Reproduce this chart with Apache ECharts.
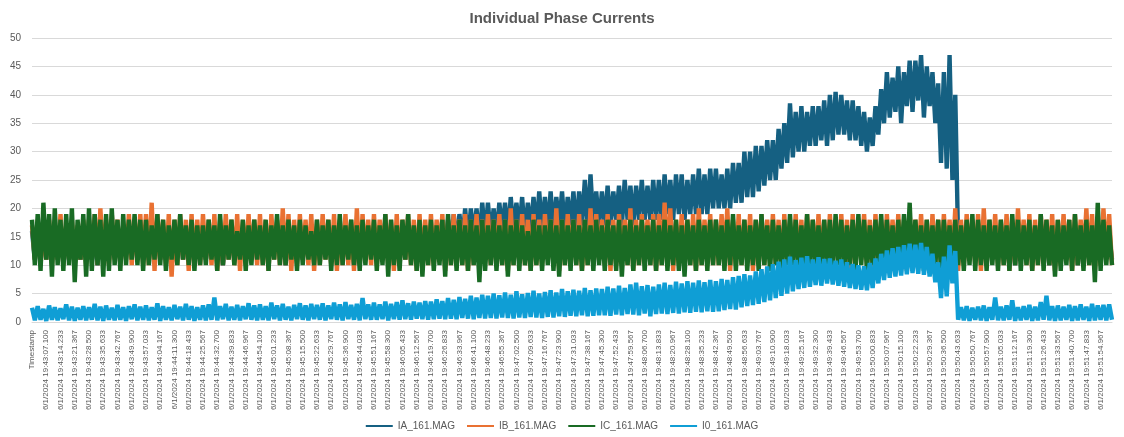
<!DOCTYPE html>
<html lang="en">
<head>
<meta charset="utf-8">
<title>Individual Phase Currents</title>
<script src="https://cdn.jsdelivr.net/npm/echarts@6/dist/echarts.min.js"></script>
<style>
    html, body { margin: 0; padding: 0; background: #fff; }
    #container { width: 1124px; height: 437px; }
</style>
</head>
<body>
<div id="container"></div>
<script>
    // tick labels shown on the category axis (one every 5 points)
    const tickDate = "6/1/2024";
    const tickTimes = [
        "19:43:07.100", "19:43:14.233", "19:43:21.367", "19:43:28.500", "19:43:35.633", "19:43:42.767", "19:43:49.900", "19:43:57.033",
        "19:44:04.167", "19:44:11.300", "19:44:18.433", "19:44:25.567", "19:44:32.700", "19:44:39.833", "19:44:46.967", "19:44:54.100",
        "19:45:01.233", "19:45:08.367", "19:45:15.500", "19:45:22.633", "19:45:29.767", "19:45:36.900", "19:45:44.033", "19:45:51.167", "19:45:58.300",
        "19:46:05.433", "19:46:12.567", "19:46:19.700", "19:46:26.833", "19:46:33.967", "19:46:41.100", "19:46:48.233", "19:46:55.367",
        "19:47:02.500", "19:47:09.633", "19:47:16.767", "19:47:23.900", "19:47:31.033", "19:47:38.167", "19:47:45.300", "19:47:52.433", "19:47:59.567",
        "19:48:06.700", "19:48:13.833", "19:48:20.967", "19:48:28.100", "19:48:35.233", "19:48:42.367", "19:48:49.500", "19:48:56.633",
        "19:49:03.767", "19:49:10.900", "19:49:18.033", "19:49:25.167", "19:49:32.300", "19:49:39.433", "19:49:46.567", "19:49:53.700",
        "19:50:00.833", "19:50:07.967", "19:50:15.100", "19:50:22.233", "19:50:29.367", "19:50:36.500", "19:50:43.633", "19:50:50.767", "19:50:57.900",
        "19:51:05.033", "19:51:12.167", "19:51:19.300", "19:51:26.433", "19:51:33.567", "19:51:40.700", "19:51:47.833", "19:51:54.967"
    ];
    const pointsPerTick = 5;

    const seriesNames = ["IA_161.MAG", "IB_161.MAG", "IC_161.MAG", "I0_161.MAG"];
    const seriesColors = ["#156082", "#E97132", "#196B24", "#0F9ED5"];

    const iaValues = [
        16,11,15,12,16,11,15,12,16,11,15,12,16,11,15,12,16,11,15,12,
        16,11,15,10,16,12,15,11,16,12,15,11,16,12,15,11,16,12,15,11,
        16,11,15,12,16,11,15,12,16,10,15,12,16,11,15,12,16,11,15,12,
        16,11,15,12,16,11,15,10,16,12,15,11,16,12,15,11,16,12,15,11,
        16,12,15,11,16,12,15,11,16,10,15,11,16,12,15,11,16,12,15,11,
        16,11,15,12,16,11,15,12,16,11,15,12,16,10,15,12,16,11,15,12,
        16,11,16,12,17,11,16,12,17,12,16,11,17,12,16,12,17,12,16,12,
        17,12,17,13,18,12,18,13,19,13,19,14,20,14,20,15,20,14,21,15,
        21,15,20,15,21,16,21,15,22,16,21,16,22,15,21,16,22,16,23,16,
        22,16,23,16,22,17,23,16,22,17,23,16,23,17,25,17,26,17,23,17,
        23,17,24,17,23,18,24,17,25,18,24,17,24,18,25,18,24,18,25,18,
        25,18,26,19,25,18,26,19,26,18,25,19,26,19,27,19,26,19,27,20,
        27,20,26,20,27,20,28,21,28,21,30,22,30,22,31,23,31,24,32,25,
        32,25,34,27,35,28,38.5,29,37,30,38,30,37,31,38,31,38,32,39,31,
        40,32,40.5,33,40,33,39,32,39,32,38,31,37,30,36,31,38,33,41,35,
        44,36,43,37,45,35,44,38,46,37,46,39,47,36,45,38,44,35,42,28,
        44,27,47,25,40,14,16,12,15,11,16,12,15,11,16,12,15,11,16,12,
        16,11,15,12,16,10,15,12,16,11,15,12,16,11,15,12,16,10,15,12,
        16,11,15,12,16,11,15,10,16,12,15,11,16,12,15,11,16,12,15,11
    ];

    const ibValues = [
        17,11,18,10,17,11,18,10,17,11,19,10,17,11,18,10,17,11,18,10,
        18,11,19,10,20,11,18,10,19,11,18,10,17,11,19,10,18,11,19,10,
        19,10,21,9,19,11,18,10,19,8,18,10,19,11,18,9,19,10,18,10,
        19,11,18,10,19,9,18,10,19,11,18,10,19,9,18,10,19,11,18,10,
        19,10,18,9,19,11,18,10,20,10,19,9,18,10,19,11,18,10,19,9,
        18,10,19,11,18,10,19,9,18,10,19,10,18,9,20,10,19,11,18,10,
        19,10,18,11,19,10,18,9,19,10,18,11,19,10,18,9,19,10,18,10,
        19,10,18,11,19,9,18,10,19,11,18,10,19,9,18,10,19,10,18,11,
        19,10,18,11,19,10,18,9,20,10,18,11,19,10,18,9,19,10,18,10,
        19,11,18,10,20,9,18,10,19,11,18,10,19,9,18,10,20,10,19,11,
        18,10,19,9,18,10,19,11,18,10,20,9,18,10,19,11,18,10,19,9,
        19,10,21,11,20,9,18,10,19,11,18,10,19,9,20,10,18,11,19,10,
        18,10,19,11,20,9,18,10,19,10,18,11,19,9,18,10,19,10,18,11,
        19,10,18,9,19,11,18,10,19,10,18,9,19,11,18,10,19,10,18,9,
        19,10,18,11,19,10,18,9,19,10,18,11,19,10,18,9,19,10,18,10,
        19,11,18,10,19,10,18,9,19,10,18,11,19,10,18,9,19,10,18,10,
        19,11,18,10,20,9,18,10,19,11,18,10,19,9,20,10,18,11,19,10,
        18,10,19,9,18,10,20,11,18,10,19,9,18,10,19,11,18,10,19,9,
        18,10,19,11,18,9,19,10,18,11,20,10,19,9,18,10,20,11,19,10
    ];

    const icValues = [
        18,10,19,9,21,11,19,8,20,10,18,9,19,10,20,7,18,11,19,8,
        20,9,19,10,18,8,19,9,20,10,18,9,19,10,18,11,19,10,18,9,
        18,10,17,11,19,10,18,9,17,11,18,10,19,11,17,10,18,9,17,10,
        17,10,18,11,17,9,19,10,17,11,18,10,16,11,18,9,17,10,18,11,
        17,10,18,9,17,11,19,10,17,10,18,11,17,9,18,10,17,11,16,10,
        18,10,17,11,18,9,17,10,19,10,17,11,18,10,17,9,18,10,17,11,
        18,9,17,10,19,8,18,10,17,9,18,11,19,10,17,9,18,8,17,10,
        18,9,17,10,18,8,19,10,17,9,18,10,17,9,18,10,17,7,18,9,
        17,10,18,9,17,10,18,8,17,10,18,9,17,10,16,9,18,10,17,9,
        17,10,18,9,17,8,18,10,17,9,18,10,17,9,18,10,17,9,18,10,
        17,9,18,10,17,9,18,8,17,10,18,9,17,10,18,9,17,10,18,9,
        17,10,18,9,17,10,18,9,17,8,18,10,17,9,18,10,17,9,18,10,
        18,10,17,9,18,10,19,9,17,10,18,9,17,10,18,9,19,10,17,9,
        18,10,17,9,18,10,19,10,18,9,17,10,19,9,18,10,17,9,18,10,
        18,9,19,10,18,9,17,10,18,9,19,10,18,9,17,10,18,10,19,9,
        18,10,17,9,18,10,19,10,21,9,18,10,17,9,18,10,17,10,18,9,
        18,10,17,9,18,10,17,9,18,10,19,9,18,10,17,9,18,10,17,9,
        18,10,17,9,19,10,18,9,17,10,18,9,17,10,19,9,18,10,17,8,
        18,9,17,10,18,9,19,10,17,9,18,10,17,7,21,9,18,10,17,10
    ];

    const i0Values = [
        2.5,0.3,2.8,0.4,2.3,0.2,2.9,0.4,2.6,0.3,2.4,0.5,3.1,0.3,2.7,0.2,2.5,0.4,2.8,0.3,
        2.6,0.4,3.2,0.3,2.7,0.2,2.9,0.4,2.5,0.3,3.0,0.4,2.6,0.2,2.8,0.5,3.1,0.3,2.7,0.4,
        2.9,0.3,2.6,0.4,3.3,0.2,2.8,0.4,2.6,0.3,3.0,0.5,2.7,0.3,3.2,0.4,2.8,0.2,2.6,0.4,
        2.9,0.3,3.1,0.4,4.3,0.3,2.8,0.5,3.2,0.3,2.7,0.4,3.0,0.3,2.8,0.5,3.3,0.4,2.9,0.3,
        3.1,0.4,2.8,0.3,3.4,0.5,2.9,0.3,3.2,0.4,2.7,0.3,3.0,0.5,3.3,0.4,2.9,0.3,3.2,0.5,
        3.0,0.4,3.3,0.3,2.9,0.5,3.4,0.4,3.1,0.3,3.5,0.5,3.0,0.4,3.2,0.3,4.2,0.5,3.1,0.4,
        3.4,0.4,3.1,0.5,3.6,0.3,3.2,0.5,3.5,0.4,3.8,0.5,3.3,0.4,3.6,0.6,3.4,0.5,3.7,0.4,
        3.6,0.5,4.0,0.6,3.7,0.5,4.2,0.6,3.9,0.5,4.4,0.7,4.1,0.6,4.6,0.5,4.3,0.7,4.8,0.6,
        4.6,0.7,5.0,0.6,4.7,0.8,5.2,0.7,4.8,0.6,5.4,0.8,4.9,0.7,5.1,0.9,5.5,0.8,5.0,0.7,
        5.3,0.9,5.6,0.8,5.2,1.0,5.8,0.9,5.4,1.1,5.7,1.0,5.5,1.2,6.0,1.0,5.6,1.1,5.9,1.2,
        5.8,1.2,6.2,1.1,5.9,1.3,6.4,1.2,6.0,1.4,6.6,1.3,6.9,1.2,6.3,1.5,6.5,1.0,6.2,1.4,
        6.6,1.5,6.9,1.4,6.5,1.6,7.1,1.5,6.8,1.7,7.2,1.6,6.9,1.8,7.3,1.7,7.0,1.9,7.4,1.8,
        7.2,1.9,7.6,2.1,7.4,2.3,7.9,2.2,8.1,2.6,8.4,2.8,8.2,3.0,8.9,3.2,9.3,3.5,9.8,3.8,
        10.2,4.2,10.6,4.6,11.0,5.0,11.5,5.4,10.9,5.8,11.3,6.0,11.6,6.2,11.0,6.5,11.4,6.4,11.1,6.8,
        11.2,6.6,10.8,6.4,11.0,6.2,10.5,6.0,10.2,5.8,10.0,5.7,9.8,5.6,10.4,6.0,11.2,6.8,12.0,7.4,
        12.6,7.8,13.0,8.0,13.2,8.2,13.5,8.4,13.8,8.6,13.6,8.5,13.9,8.3,13.2,8.0,12.0,7.0,10.5,4.2,
        11.5,4.5,13.5,6.8,12.5,0.4,2.6,0.3,2.8,0.2,2.5,0.4,2.7,0.3,2.9,0.2,2.6,0.4,4.3,0.3,
        2.7,0.3,2.9,0.4,3.8,0.2,2.6,0.3,2.8,0.4,3.0,0.2,2.7,0.3,3.5,0.4,4.6,0.3,2.8,0.2,
        2.9,0.3,2.7,0.4,3.0,0.2,2.8,0.3,3.1,0.4,2.7,0.2,3.2,0.3,2.9,0.4,3.0,0.3,3.1,0.4
    ];

    const yMin = 0;
    const yMax = 50;
    const yStep = 5;

    const categories = [];
    ["Timestamp"].concat(tickTimes.map(t => `${tickDate} ${t}`)).forEach(label => {
        categories.push(label);
        for (let i = 1; i < pointsPerTick; i++) {
            categories.push("");
        }
    });

    const valueLists = [iaValues, ibValues, icValues, i0Values];
    const textColor = "#595959";
    const fontFamily = "'Liberation Sans', Arial, sans-serif";

    const option = {
        animation: false,
        backgroundColor: "#fff",
        title: {
            text: "Individual Phase Currents",
            left: "center",
            top: 6,
            textStyle: {
                color: textColor,
                fontSize: 15,
                fontWeight: 600,
                fontFamily: fontFamily
            }
        },
        legend: {
            data: seriesNames,
            left: "center",
            top: 416,
            icon: "rect",
            itemWidth: 27,
            itemHeight: 2,
            itemGap: 12,
            textStyle: {
                color: textColor,
                fontSize: 10,
                fontFamily: fontFamily
            }
        },
        grid: {
            left: 32,
            right: 12,
            top: 38,
            bottom: 115,
            outerBoundsMode: "none"
        },
        xAxis: {
            type: "category",
            data: categories,
            boundaryGap: false,
            axisLine: { lineStyle: { color: "#d9d9d9" } },
            axisTick: { show: false },
            axisLabel: {
                interval: pointsPerTick - 1,
                rotate: 90,
                margin: 8,
                color: textColor,
                fontSize: 8,
                fontFamily: fontFamily
            },
            splitLine: { show: false }
        },
        yAxis: {
            type: "value",
            min: yMin,
            max: yMax,
            interval: yStep,
            axisLine: { show: false },
            axisTick: { show: false },
            axisLabel: {
                margin: 11,
                color: textColor,
                fontSize: 10,
                fontFamily: fontFamily
            },
            splitLine: { lineStyle: { color: "#d9d9d9", width: 1 } }
        },
        series: seriesNames.map((name, i) => ({
            name: name,
            type: "line",
            data: valueLists[i],
            showSymbol: false,
            symbol: "none",
            color: seriesColors[i],
            lineStyle: { color: seriesColors[i], width: 4.4, join: "bevel", cap: "butt" },
            emphasis: { disabled: true }
        }))
    };

    let chart = echarts.init(document.getElementById("container"));
    chart.setOption(option);
</script>
</body>
</html>
